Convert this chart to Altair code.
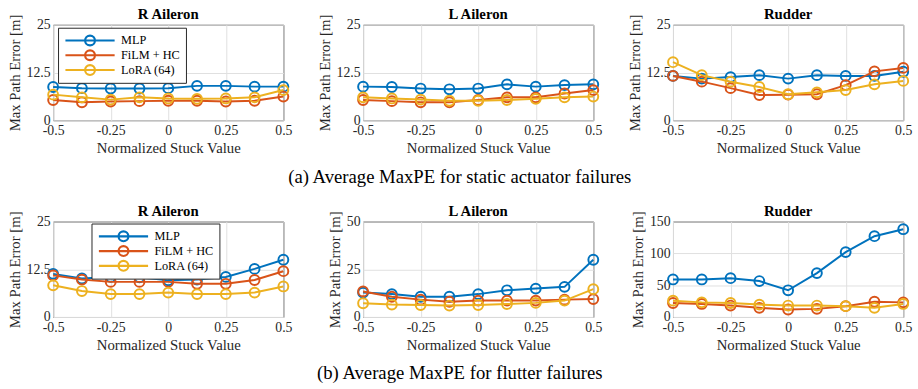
import altair as alt
import pandas as pd

x_vals = [-0.5, -0.375, -0.25, -0.125, 0, 0.125, 0.25, 0.375, 0.5]
series_names = ["MLP", "FiLM + HC", "LoRA (64)"]
colors = ["#0072BD", "#D95319", "#EDB120"]
x_ticks = [-0.5, -0.25, 0, 0.25, 0.5]

# (a) static actuator failures
static_r_mlp = [8.7, 8.4, 8.3, 8.3, 8.4, 9.0, 9.0, 8.8, 8.8]
static_r_film = [5.3, 4.7, 4.9, 5.0, 5.1, 5.1, 4.9, 5.1, 6.2]
static_r_lora = [6.7, 6.0, 5.4, 6.0, 5.7, 5.6, 5.7, 6.0, 7.9]
static_l_mlp = [8.8, 8.7, 8.3, 8.1, 8.3, 9.4, 8.8, 9.2, 9.4]
static_l_film = [5.3, 5.0, 4.7, 4.7, 5.3, 6.0, 6.0, 7.0, 7.9]
static_l_lora = [6.0, 5.7, 5.4, 5.1, 5.1, 5.3, 5.6, 6.0, 6.2]
static_rud_mlp = [11.6, 10.9, 11.3, 11.8, 10.9, 11.8, 11.6, 11.6, 12.7]
static_rud_film = [11.6, 10.1, 8.4, 6.6, 6.7, 6.8, 9.2, 12.8, 13.7]
static_rud_lora = [15.2, 11.8, 10.1, 8.7, 6.8, 7.3, 7.9, 9.4, 10.3]

# (b) flutter failures
flutter_r_mlp = [11.3, 10.1, 10.5, 10.4, 9.6, 9.8, 10.5, 12.6, 15.0]
flutter_r_film = [10.9, 9.8, 9.2, 9.2, 9.2, 8.7, 8.7, 9.7, 12.0]
flutter_r_lora = [8.3, 6.8, 6.0, 6.0, 6.4, 6.0, 6.0, 6.4, 8.0]
flutter_l_mlp = [12.8, 12.0, 10.6, 10.6, 12.0, 14.0, 14.9, 15.8, 30.0]
flutter_l_film = [13.4, 10.6, 9.1, 8.0, 8.6, 8.6, 8.6, 9.1, 9.4]
flutter_l_lora = [7.2, 6.5, 6.3, 6.0, 6.3, 6.8, 7.4, 8.6, 14.6]
flutter_rud_mlp = [59, 59, 61, 56.5, 42, 69, 102, 127, 138]
flutter_rud_film = [22, 20.5, 18, 14.4, 11.8, 12.8, 17, 24, 23]
flutter_rud_lora = [25.7, 23, 22, 19.5, 18, 18, 17, 14.4, 20.5]

caption_a = "(a) Average MaxPE for static actuator failures"
caption_b = "(b) Average MaxPE for flutter failures"

FONT = "Liberation Serif"
TXT = "#262626"
LEGEND_SYMBOL = "M-1,0H1M-0.2,0A0.2,0.2,0,1,0,0.2,0A0.2,0.2,0,1,0,-0.2,0"

PW, PH = 234, 97


def panel(title, mlp, film, lora, ymax, yticks, legend_pos=None):
    rows = []
    for name, vals in zip(series_names, [mlp, film, lora]):
        for x, v in zip(x_vals, vals):
            rows.append({"x": x, "y": v, "series": name})
    df = pd.DataFrame(rows)

    if legend_pos is None:
        legend = None
    else:
        legend = alt.Legend(
            orient="none", legendX=legend_pos[0], legendY=legend_pos[1],
            title=None, symbolType=LEGEND_SYMBOL, symbolSize=2500,
            symbolStrokeWidth=2.2, symbolFillColor="transparent",
            strokeColor=TXT, fillColor="white", padding=6,
            labelFont=FONT, labelFontSize=12.5, labelColor="black",
            clipHeight=14, rowPadding=1, labelOffset=5, cornerRadius=0,
        )
    color = alt.Color(
        "series:N",
        scale=alt.Scale(domain=series_names, range=colors),
        legend=legend,
    )
    x = alt.X(
        "x:Q", scale=alt.Scale(domain=[-0.5, 0.5], nice=False, zero=False),
        axis=alt.Axis(values=x_ticks, labelExpr="toString(datum.value)",
                      labelFlush=False, title="Normalized Stuck Value"),
    )
    y = alt.Y(
        "y:Q", scale=alt.Scale(domain=[0, ymax], nice=False),
        axis=alt.Axis(values=yticks, format=".1~f", title="Max Path Error [m]"),
    )
    layers = []
    for name in series_names:
        base = alt.Chart(df).transform_filter(
            alt.datum.series == name
        ).encode(x=x, y=y, color=color)
        layers.append(base.mark_line(strokeWidth=2))
        layers.append(base.mark_point(shape="circle", filled=False, size=100,
                                      strokeWidth=2, opacity=1))
    return alt.layer(*layers).properties(
        width=PW, height=PH,
        title=alt.TitleParams(title, font=FONT, fontSize=15, fontWeight="bold",
                              color="black", offset=-8, anchor="middle"),
    )


def caption(text):
    return alt.TitleParams(text, orient="bottom", anchor="middle", font=FONT,
                           fontSize=19, fontWeight="normal", color="black", offset=12)


row_a = alt.hconcat(
    panel("R Aileron", static_r_mlp, static_r_film, static_r_lora, 25, [0, 12.5, 25], (5, 3)),
    panel("L Aileron", static_l_mlp, static_l_film, static_l_lora, 25, [0, 12.5, 25]),
    panel("Rudder", static_rud_mlp, static_rud_film, static_rud_lora, 25, [0, 12.5, 25]),
    spacing=81, bounds="flush", title=caption(caption_a),
).resolve_scale(color="independent").resolve_legend(color="independent")

row_b = alt.hconcat(
    panel("R Aileron", flutter_r_mlp, flutter_r_film, flutter_r_lora, 25, [0, 12.5, 25], (39, 2)),
    panel("L Aileron", flutter_l_mlp, flutter_l_film, flutter_l_lora, 50, [0, 25, 50]),
    panel("Rudder", flutter_rud_mlp, flutter_rud_film, flutter_rud_lora, 150, [0, 50, 100, 150]),
    spacing=81, bounds="flush", title=caption(caption_b),
).resolve_scale(color="independent").resolve_legend(color="independent")

chart = alt.vconcat(row_a, row_b, spacing=16).resolve_scale(
    color="independent").resolve_legend(color="independent").properties(
    padding={"left": 6, "top": 3, "right": 5, "bottom": 3},
    background="white",
).configure_title(
    font=FONT,
).configure_axis(
    labelFont=FONT, labelFontSize=14, labelColor=TXT,
    titleFont=FONT, titleFontSize=15, titleFontWeight="normal", titleColor=TXT,
    gridColor="#dfdfdf", gridWidth=1, domain=False, ticks=False, tickSize=0,
).configure_axisX(
    labelPadding=4, titlePadding=3,
).configure_axisY(
    labelPadding=3, titlePadding=4,
).configure_view(
    stroke=TXT, strokeWidth=1,
)

chart.save("out.html", embed_options={"renderer": "svg", "actions": False})
